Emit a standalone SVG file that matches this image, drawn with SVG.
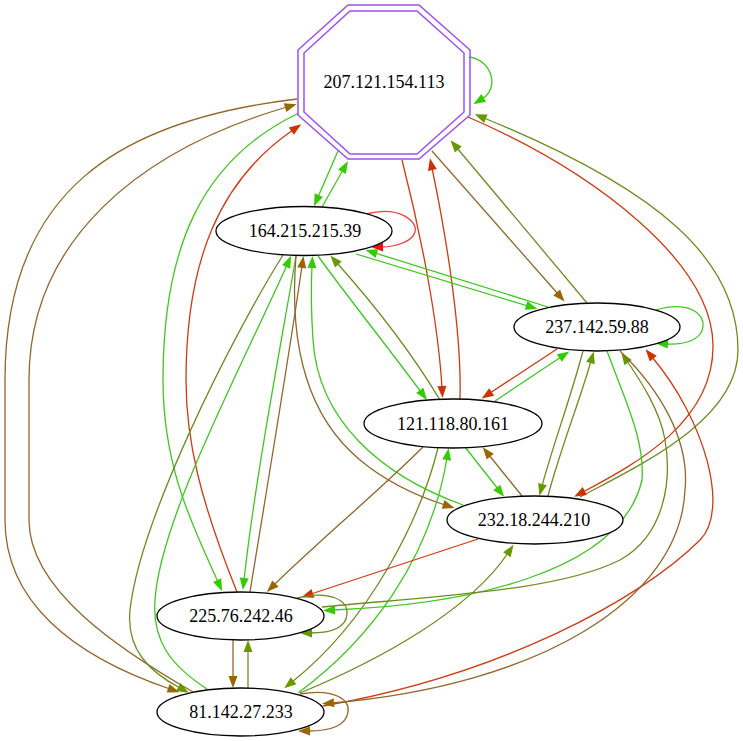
<svg xmlns="http://www.w3.org/2000/svg" width="743" height="741" viewBox="0 0 743 741">
<style>
.e{fill:none;stroke-width:1.3}
.g{stroke:#3ec81e}.r{stroke:#d03a10}.b{stroke:#93662a}.o{stroke:#6e8c22}.rr{stroke:#f04040}
.n{fill:#fff;stroke:#000;stroke-width:1.3}
.oct{fill:none;stroke:#9f4ff0;stroke-width:1.5}
text{font-family:"Liberation Serif","Times New Roman",serif;font-size:18px;text-anchor:middle;fill:#000}
</style>
<defs>
<marker id="ag" markerUnits="userSpaceOnUse" markerWidth="12" markerHeight="9" viewBox="0 0 12 9" refX="2" refY="4.5" orient="auto" overflow="visible"><path d="M0,0L12,4.5L0,9z" fill="#33cc00"/></marker>
<marker id="ar" markerUnits="userSpaceOnUse" markerWidth="12" markerHeight="9" viewBox="0 0 12 9" refX="2" refY="4.5" orient="auto" overflow="visible"><path d="M0,0L12,4.5L0,9z" fill="#cc3300"/></marker>
<marker id="ab" markerUnits="userSpaceOnUse" markerWidth="12" markerHeight="9" viewBox="0 0 12 9" refX="2" refY="4.5" orient="auto" overflow="visible"><path d="M0,0L12,4.5L0,9z" fill="#996600"/></marker>
<marker id="ao" markerUnits="userSpaceOnUse" markerWidth="12" markerHeight="9" viewBox="0 0 12 9" refX="2" refY="4.5" orient="auto" overflow="visible"><path d="M0,0L12,4.5L0,9z" fill="#669900"/></marker>
<marker id="arr" markerUnits="userSpaceOnUse" markerWidth="12" markerHeight="9" viewBox="0 0 12 9" refX="2" refY="4.5" orient="auto" overflow="visible"><path d="M0,0L12,4.5L0,9z" fill="#ee1111"/></marker>
</defs>
<rect width="743" height="741" fill="#fff"/>
<g id="edges">
<path class="e g" marker-end="url(#ag)" d="M469,57 C492,60 500,88 482,99"/>
<path class="e o" marker-end="url(#ao)" d="M580,497 C640,465 738,420 738,350 C738,260 660,190 484,118"/>
<path class="e r" marker-end="url(#ar)" d="M468,117 C595,172 712,262 713,345 C714,420 640,462 583,492"/>
<path class="e o" marker-end="url(#ao)" d="M587,303 C555,265 490,187 457,148"/>
<path class="e b" marker-end="url(#ab)" d="M432,151 L558,294"/>
<path class="e r" marker-end="url(#ar)" d="M460,399 C462,330 445,230 432,168"/>
<path class="e r" marker-end="url(#ar)" d="M402,160 C420,230 438,320 442,388"/>
<path class="e g" marker-end="url(#ag)" d="M338,151 L318,197"/>
<path class="e g" marker-end="url(#ag)" d="M322,207 L343,170"/>
<path class="e g" marker-end="url(#ag)" d="M299,113 C200,160 163,250 163,380 C163,470 195,530 218,582"/>
<path class="e r" marker-end="url(#ar)" d="M237,592 C200,500 186,440 186,380 C186,260 220,180 293,130"/>
<path class="e b" marker-end="url(#ab)" d="M297,99 C120,120 5,190 5,380 L5,520 C5,600 70,655 170,689"/>
<path class="e b" marker-end="url(#ab)" d="M193,692 C120,650 29,590 29,520 L29,380 C29,240 140,150 287,107"/>
<path class="e o" marker-end="url(#ao)" d="M283,255 C230,340 140,520 130,610 C126,650 150,672 180,688"/>
<path class="e g" marker-end="url(#ag)" d="M207,689 C170,665 152,640 155,600 C160,520 240,370 287,265"/>
<path class="e g" marker-end="url(#ag)" d="M296,256 C280,350 255,480 244,580"/>
<path class="e b" marker-end="url(#ab)" d="M250,592 C265,500 290,350 302,266"/>
<path class="e g" marker-end="url(#ag)" d="M463,505 C380,475 318,420 313,340 C311,310 311,285 312,266"/>
<path class="e b" marker-end="url(#ab)" d="M296,256 C290,330 300,410 360,460 C390,485 420,497 445,505"/>
<path class="e g" marker-end="url(#ag)" d="M318,256 C350,300 390,350 421,392"/>
<path class="e o" marker-end="url(#ao)" d="M440,400 C410,350 370,300 337,263"/>
<path class="e r" marker-end="url(#ar)" d="M557,349 L490,393"/>
<path class="e g" marker-end="url(#ag)" d="M495,401 L561,357"/>
<path class="e b" marker-end="url(#ab)" d="M423,447 C380,490 320,540 274,585"/>
<path class="e g" marker-end="url(#ag)" d="M298,693 C370,640 430,560 447,458"/>
<path class="e o" marker-end="url(#ao)" d="M438,448 C420,520 370,620 292,682"/>
<path class="e o" marker-end="url(#ao)" d="M300,693 C380,660 470,610 508,553"/>
<path class="e g" marker-end="url(#ag)" d="M465,447 L498,489"/>
<path class="e b" marker-end="url(#ab)" d="M522,496 L489,455"/>
<path class="e g" marker-end="url(#ag)" d="M656,310 C690,300 705,315 703,327 C701,340 685,345 666,344"/>
<path class="e o" marker-end="url(#ao)" d="M583,351 C570,400 553,445 542,486"/>
<path class="e o" marker-end="url(#ao)" d="M548,496 C560,450 580,400 591,361"/>
<path class="e g" marker-end="url(#ag)" d="M607,351 C625,400 645,440 642,480 C620,575 460,605 333,610"/>
<path class="e o" marker-end="url(#ao)" d="M322,607 C450,595 560,590 620,560 C665,535 672,480 665,440 C660,410 640,380 627,361"/>
<path class="e r" marker-end="url(#ar)" d="M323,706 C500,675 640,600 700,540 C730,510 705,420 652,357"/>
<path class="e b" marker-end="url(#ab)" d="M620,351 C660,390 690,440 685,490 C680,600 540,685 332,703"/>
<path class="e b" marker-end="url(#ab)" d="M233,640 L233,678"/>
<path class="e o" marker-end="url(#ao)" d="M248,688 L248,650"/>
<path class="e r" marker-end="url(#ar)" d="M478,539 L311,594"/>
<path class="e o" marker-end="url(#ao)" d="M297,598 C330,590 348,600 347,614 C346,628 330,633 310,633"/>
<path class="e b" marker-end="url(#ab)" d="M300,694 C335,688 350,700 348,712 C346,726 330,731 308,731"/>
<path class="e rr" marker-end="url(#arr)" d="M366,214 C400,205 418,222 415,232 C412,242 395,247 381,247"/>
<path class="e g" marker-end="url(#ag)" d="M548,307 L375,253"/>
<path class="e g" marker-end="url(#ag)" d="M356,254 L528,306"/>
</g>
<g id="n207">
<polygon class="oct" points="348,5 419,5 470,50 470,115 419,159 348,159 298,115 298,50"/>
<polygon class="oct" points="350,11 417,11 464,53 464,112 417,154 350,154 304,112 304,53"/>
<text x="384" y="88">207.121.154.113</text>
</g>
<g id="n164">
<ellipse class="n" cx="304" cy="231" rx="88" ry="24.5"/>
<text x="305" y="237">164.215.215.39</text>
</g>
<g id="n237">
<ellipse class="n" cx="597" cy="327" rx="83" ry="24"/>
<text x="597" y="333">237.142.59.88</text>
</g>
<g id="n121">
<ellipse class="n" cx="453" cy="423.5" rx="89" ry="24.5"/>
<text x="453" y="429.5">121.118.80.161</text>
</g>
<g id="n232">
<ellipse class="n" cx="535" cy="520" rx="88" ry="24"/>
<text x="534" y="526">232.18.244.210</text>
</g>
<g id="n225">
<ellipse class="n" cx="240.5" cy="616" rx="83.5" ry="24"/>
<text x="241" y="622">225.76.242.46</text>
</g>
<g id="n81">
<ellipse class="n" cx="240.5" cy="712" rx="83.5" ry="24"/>
<text x="241" y="718">81.142.27.233</text>
</g>
</svg>
